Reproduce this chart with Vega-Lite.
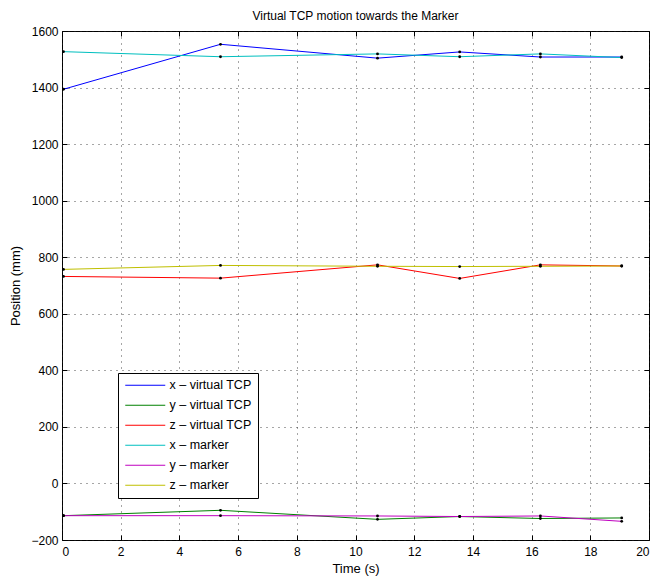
{
  "$schema": "https://vega.github.io/schema/vega-lite/v6.json",
  "width": 587,
  "height": 509,
  "autosize": {"type": "none"},
  "padding": {"left": 62, "top": 31, "right": 7, "bottom": 38},
  "background": "white",
  "config": {
    "font": "Liberation Sans",
    "view": {"stroke": "black", "strokeWidth": 1},
    "axis": {
      "labelFont": "Liberation Sans",
      "titleFont": "Liberation Sans",
      "labelFontSize": 12,
      "titleFontSize": 13,
      "titleFontWeight": "normal",
      "labelColor": "black",
      "titleColor": "black",
      "domain": false,
      "tickColor": "black",
      "tickSize": -5,
      "grid": true,
      "gridDash": [1, 5],
      "gridColor": "#222222",
      "gridOpacity": 0.8,
      "format": "d"
    },
    "title": {"font": "Liberation Sans", "fontSize": 12, "fontWeight": "normal", "color": "black"}
  },
  "title": {"text": "Virtual TCP motion towards the Marker", "offset": 2},
  "data": {
    "values": [
      {"t": 0.05, "v": 1394, "s": "x – virtual TCP"},
      {"t": 5.4, "v": 1553, "s": "x – virtual TCP"},
      {"t": 10.75, "v": 1504, "s": "x – virtual TCP"},
      {"t": 13.55, "v": 1526, "s": "x – virtual TCP"},
      {"t": 16.3, "v": 1508, "s": "x – virtual TCP"},
      {"t": 19.07, "v": 1508, "s": "x – virtual TCP"},
      {"t": 0.05, "v": -114, "s": "y – virtual TCP"},
      {"t": 5.4, "v": -95, "s": "y – virtual TCP"},
      {"t": 10.75, "v": -127, "s": "y – virtual TCP"},
      {"t": 13.55, "v": -117, "s": "y – virtual TCP"},
      {"t": 16.3, "v": -124, "s": "y – virtual TCP"},
      {"t": 19.07, "v": -122, "s": "y – virtual TCP"},
      {"t": 0.05, "v": 732, "s": "z – virtual TCP"},
      {"t": 5.4, "v": 726, "s": "z – virtual TCP"},
      {"t": 10.75, "v": 773, "s": "z – virtual TCP"},
      {"t": 13.55, "v": 725, "s": "z – virtual TCP"},
      {"t": 16.3, "v": 773, "s": "z – virtual TCP"},
      {"t": 19.07, "v": 769, "s": "z – virtual TCP"},
      {"t": 0.05, "v": 1527, "s": "x – marker"},
      {"t": 5.4, "v": 1509, "s": "x – marker"},
      {"t": 10.75, "v": 1519, "s": "x – marker"},
      {"t": 13.55, "v": 1509, "s": "x – marker"},
      {"t": 16.3, "v": 1519, "s": "x – marker"},
      {"t": 19.07, "v": 1506, "s": "x – marker"},
      {"t": 0.05, "v": -114, "s": "y – marker"},
      {"t": 5.4, "v": -114, "s": "y – marker"},
      {"t": 10.75, "v": -115, "s": "y – marker"},
      {"t": 13.55, "v": -117, "s": "y – marker"},
      {"t": 16.3, "v": -115, "s": "y – marker"},
      {"t": 19.07, "v": -134, "s": "y – marker"},
      {"t": 0.05, "v": 757, "s": "z – marker"},
      {"t": 5.4, "v": 771, "s": "z – marker"},
      {"t": 10.75, "v": 768, "s": "z – marker"},
      {"t": 13.55, "v": 767, "s": "z – marker"},
      {"t": 16.3, "v": 768, "s": "z – marker"},
      {"t": 19.07, "v": 769, "s": "z – marker"}
    ]
  },
  "layer": [
    {
      "mark": {"type": "line", "strokeWidth": 1},
      "encoding": {
        "x": {"field": "t", "type": "quantitative", "scale": {"domain": [0, 20], "nice": false, "zero": false},
              "axis": {"values": [0,2,4,6,8,10,12,14,16,18,20], "title": "Time (s)", "titlePadding": 5, "labelPadding": 11, "orient": "bottom"}},
        "y": {"field": "v", "type": "quantitative", "scale": {"domain": [-200, 1600], "nice": false, "zero": false},
              "axis": {"values": [-200,0,200,400,600,800,1000,1200,1400,1600], "title": "Position (mm)", "titlePadding": 8, "labelPadding": 9, "orient": "left"}},
        "color": {"field": "s", "type": "nominal",
          "scale": {
            "domain": ["x – virtual TCP", "y – virtual TCP", "z – virtual TCP", "x – marker", "y – marker", "z – marker"],
            "range": ["#0000ff", "#008000", "#ff0000", "#00bfbf", "#bf00bf", "#bfbf00"]
          },
          "legend": {
            "title": null, "orient": "none", "legendX": 56, "legendY": 342,
            "symbolType": "M-4,0H4", "symbolSize": 100, "symbolStrokeWidth": 1.2, "symbolOffset": 15,
            "labelFont": "Liberation Sans", "labelFontSize": 12.5, "labelColor": "black", "labelOffset": 18,
            "rowPadding": 7, "strokeColor": "black", "fillColor": "white", "padding": 6
          }
        },
        "detail": {"field": "s"}
      }
    },
    {
      "mark": {"type": "point", "filled": true, "color": "black", "size": 8, "opacity": 1},
      "encoding": {
        "x": {"field": "t", "type": "quantitative", "axis": {"orient": "top", "values": [0,2,4,6,8,10,12,14,16,18,20], "labels": false, "title": null, "grid": false}},
        "y": {"field": "v", "type": "quantitative", "axis": {"orient": "right", "values": [-200,0,200,400,600,800,1000,1200,1400,1600], "labels": false, "title": null, "grid": false}}
      }
    }
  ],
  "resolve": {"axis": {"x": "independent", "y": "independent"}}
}
